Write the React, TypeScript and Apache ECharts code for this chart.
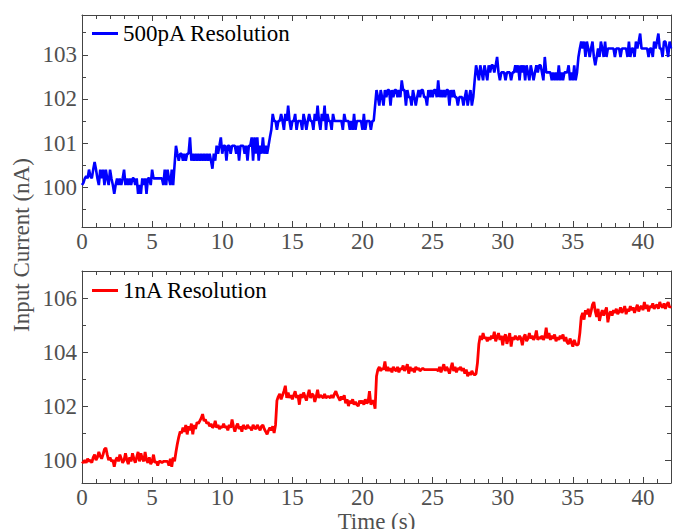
import React, { useEffect, useRef } from "react";
import * as echarts from "echarts";

const TIME_STEP = 0.1;
const X_MIN = 0;
const X_MAX = 42;
const TOP_Y_MIN = 99.1;
const TOP_Y_MAX = 103.9;
const BOT_Y_MIN = 99.15;
const BOT_Y_MAX = 107;

const xMajorTicks = [0, 5, 10, 15, 20, 25, 30, 35, 40];
const xMinorTicks = [1, 2, 3, 4, 6, 7, 8, 9, 11, 12, 13, 14, 16, 17, 18, 19, 21, 22, 23, 24, 26, 27, 28, 29, 31, 32, 33, 34, 36, 37, 38, 39, 41];
const topYMajorTicks = [100, 101, 102, 103];
const topYMinorTicks = [99.5, 100.5, 101.5, 102.5, 103.5];
const botYMajorTicks = [100, 102, 104, 106];
const botYMinorTicks = [101, 103, 105];

const blueName = "500pA Resolution";
const redName = "1nA Resolution";
const yTitle = "Input Current (nA)";
const xTitle = "Time (s)";

// 500pA resolution trace, one value every 0.1 s (rows = 1 s)
const blueCurrent = [
  100.05, 100.1, 100.2, 100.25, 100.2, 100.4, 100.25, 100.2, 100.4, 100.57,
  100.4, 100.2, 100.05, 100.4, 100.2, 100.4, 100.05, 100.4, 100.2, 100.05,
  100.4, 100.2, 100.05, 99.85, 100.05, 100.2, 100.05, 100.2, 100.05, 100.2,
  100.4, 100.05, 100.2, 100.05, 100.2, 100.05, 100.2, 100.2, 100.05, 100.2,
  99.85, 100.05, 99.85, 100.2, 100.05, 100.2, 99.85, 100.2, 100.2, 100.05,
  100.4, 100.2, 100.2, 100.2, 100.2, 100.2, 100.2, 100.2, 100.05, 100.4,
  100.05, 100.4, 100.2, 100.05, 100.4, 100.05, 100.5, 100.94, 100.76, 100.6,
  100.76, 100.76, 100.6, 100.76, 100.6, 100.76, 100.76, 101.13, 100.6, 100.76,
  100.6, 100.76, 100.6, 100.76, 100.6, 100.76, 100.6, 100.76, 100.6, 100.76,
  100.6, 100.76, 100.6, 100.42, 100.76, 100.6, 100.94, 100.76, 100.94, 101.13,
  100.76, 100.94, 100.94, 100.6, 100.94, 100.94, 100.76, 100.94, 100.94, 100.94,
  100.76, 100.94, 100.6, 100.94, 100.94, 100.94, 100.76, 100.94, 100.6, 100.94,
  100.94, 101.13, 100.6, 101.13, 100.76, 101.13, 100.6, 100.94, 100.76, 101.13,
  100.76, 100.94, 100.76, 100.94, 101.13, 101.3, 101.66, 101.5, 101.5, 101.3,
  101.5, 101.5, 101.66, 101.5, 101.3, 101.66, 101.5, 101.85, 101.5, 101.3,
  101.5, 101.5, 101.66, 101.3, 101.5, 101.5, 101.5, 101.3, 101.66, 101.5,
  101.3, 101.5, 101.66, 101.5, 101.5, 101.3, 101.66, 101.5, 101.85, 101.5,
  101.3, 101.66, 101.5, 101.85, 101.3, 101.66, 101.5, 101.5, 101.3, 101.66,
  101.5, 101.5, 101.5, 101.5, 101.5, 101.5, 101.3, 101.66, 101.5, 101.5,
  101.5, 101.3, 101.5, 101.3, 101.66, 101.3, 101.5, 101.5, 101.5, 101.5,
  101.3, 101.66, 101.3, 101.5, 101.5, 101.5, 101.3, 101.5, 101.5, 101.85,
  102.2, 102.04, 101.85, 102.2, 102.04, 101.85, 102.2, 102.04, 102.2, 102.2,
  101.85, 102.2, 102.04, 102.2, 102.2, 102.04, 102.2, 102.04, 102.42, 102.2,
  102.2, 101.85, 102.2, 102.04, 102.04, 101.85, 102.2, 102.04, 101.85, 102.04,
  102.2, 102.04, 102.2, 102.2, 102.04, 102.04, 101.85, 102.2, 102.04, 102.2,
  102.04, 102.2, 102.2, 102.04, 102.42, 102.04, 102.2, 102.04, 102.2, 102.04,
  102.2, 102.2, 101.85, 102.2, 102.04, 102.2, 102.04, 102.04, 101.85, 102.04,
  102.04, 102.04, 101.85, 102.04, 102.2, 101.85, 102.04, 102.2, 101.85, 102.04,
  102.42, 102.76, 102.6, 102.42, 102.76, 102.6, 102.42, 102.76, 102.6, 102.42,
  102.76, 102.6, 102.76, 102.76, 102.6, 102.76, 102.95, 102.6, 102.42, 102.6,
  102.6, 102.6, 102.42, 102.6, 102.6, 102.6, 102.42, 102.6, 102.6, 102.76,
  102.6, 102.76, 102.42, 102.76, 102.6, 102.76, 102.42, 102.76, 102.6, 102.42,
  102.76, 102.6, 102.42, 102.6, 102.76, 102.6, 102.76, 102.76, 102.6, 102.42,
  102.95, 102.6, 102.6, 102.6, 102.6, 102.42, 102.6, 102.42, 102.6, 102.42,
  102.76, 102.42, 102.6, 102.42, 102.6, 102.6, 102.6, 102.76, 102.42, 102.6,
  102.42, 102.76, 102.42, 102.6, 102.95, 103.14, 103.3, 103.14, 103.3, 102.95,
  103.3, 103.14, 102.95, 103.14, 103.3, 102.95, 102.76, 102.95, 103.14, 102.95,
  103.3, 103.14, 102.95, 103.3, 102.95, 103.14, 103.14, 103.14, 103.14, 103.14,
  102.95, 103.14, 103.14, 103.14, 102.95, 103.14, 103.14, 103.14, 103.14, 102.95,
  103.3, 102.95, 103.14, 103.14, 102.95, 103.3, 103.14, 103.3, 103.48, 103.14,
  103.14, 103.14, 103.14, 103.14, 102.95, 103.14, 103.14, 102.95, 103.3, 103.14,
  103.3, 103.48, 103.14, 103.14, 102.95, 103.3, 103.3, 103.14, 102.95, 103.3,
  103.14,
];

// 1nA resolution trace, one value every 0.1 s (rows = 1 s)
const redCurrent = [
  99.95, 99.9, 100.0, 99.9, 100.05, 99.95, 100.0, 99.9, 100.1, 100.2,
  100.0, 100.1, 100.3, 100.15, 100.05, 100.2, 100.4, 100.45, 100.2, 100.0,
  100.1, 99.95, 100.0, 99.75, 100.0, 100.1, 99.95, 100.2, 100.05, 99.9,
  100.0, 100.25, 100.0, 99.85, 100.1, 99.95, 100.25, 100.05, 99.9, 100.1,
  100.3, 99.95, 100.25, 100.05, 99.95, 100.3, 100.0, 99.9, 100.1, 99.85,
  99.95, 100.2, 99.9, 99.95, 99.8, 99.95, 99.95, 99.9, 99.95, 99.95,
  99.95, 99.95, 99.8, 100.05, 99.75, 100.1, 99.95, 100.3, 100.6, 100.85,
  101.05, 101.0, 101.2, 101.05, 101.3, 100.95, 101.25, 101.1, 101.35, 100.95,
  101.3, 101.15, 101.4, 101.35, 101.45, 101.55, 101.7, 101.45, 101.5, 101.35,
  101.4, 101.25, 101.35, 101.2, 101.25, 101.45, 101.2, 101.3, 101.15, 101.25,
  101.2, 101.35, 101.2, 101.25, 101.1, 101.3, 101.2, 101.5, 101.25, 101.05,
  101.25, 101.35, 101.15, 101.25, 101.05, 101.3, 101.2, 101.15, 101.3, 101.2,
  101.2, 101.1, 101.3, 101.2, 101.15, 101.3, 101.2, 101.1, 101.25, 101.3,
  101.15, 101.05, 100.95, 101.1, 101.2, 101.1, 101.25, 101.0, 101.3, 102.2,
  102.35, 102.45, 102.25, 102.4, 102.55, 102.75, 102.3, 102.5, 102.3, 102.4,
  102.25, 102.4, 102.55, 102.3, 102.4, 102.05, 102.45, 102.3, 102.5, 102.35,
  102.2, 102.4, 102.6, 102.3, 102.45, 102.4, 102.15, 102.35, 102.6, 102.3,
  102.4, 102.35, 102.3, 102.45, 102.3, 102.35, 102.35, 102.3, 102.4, 102.3,
  102.45, 102.55, 102.4, 102.3, 102.2, 102.35, 102.25, 102.4, 102.1, 102.25,
  102.0, 102.2, 102.1, 102.25, 102.05, 102.15, 102.05, 102.0, 102.2, 102.1,
  102.2, 102.05, 102.25, 102.1, 102.15, 102.55, 102.05, 102.2, 102.15, 101.9,
  103.1, 103.35, 103.45, 103.3, 103.4, 103.35, 103.65, 103.3, 103.45, 103.3,
  103.4, 103.25, 103.45, 103.35, 103.3, 103.45, 103.25, 103.4, 103.35, 103.5,
  103.3, 103.4, 103.55, 103.2, 103.45, 103.3, 103.4, 103.25, 103.45, 103.35,
  103.4, 103.3, 103.35, 103.4, 103.35, 103.35, 103.35, 103.35, 103.35, 103.35,
  103.35, 103.35, 103.35, 103.35, 103.3, 103.45, 103.25, 103.4, 103.55, 103.3,
  103.45, 103.35, 103.2, 103.4, 103.6, 103.3, 103.45, 103.25, 103.4, 103.35,
  103.45, 103.3, 103.4, 103.2, 103.35, 103.1, 103.25, 103.15, 103.3, 103.2,
  103.15, 103.2, 103.6, 104.3, 104.6, 104.45, 104.7, 104.5, 104.55, 104.4,
  104.55, 104.45, 104.6, 104.5, 104.75, 104.4, 104.55, 104.7, 104.45, 104.6,
  104.25, 104.55, 104.65, 104.3, 104.5, 104.7, 104.2, 104.55, 104.45, 104.6,
  104.5, 104.45, 104.6, 104.5, 104.25, 104.55, 104.65, 104.4, 104.5, 104.7,
  104.5, 104.6, 104.45, 104.55, 104.8, 104.45, 104.55, 104.5, 104.6, 104.45,
  104.55, 104.9, 104.5, 104.7, 104.45, 104.6, 104.5, 104.65, 104.4, 104.55,
  104.45, 104.6, 104.5, 104.65, 104.4, 104.55, 104.35, 104.3, 104.5, 104.35,
  104.2, 104.45, 104.3, 104.25, 104.3, 104.7, 105.3, 105.45, 105.2, 105.55,
  105.4, 105.6, 105.3, 105.5, 105.75, 105.85, 105.5, 105.3, 105.6, 105.15,
  105.4, 105.55, 105.35, 105.5, 105.65, 105.1, 105.4, 105.5, 105.35, 105.55,
  105.45, 105.6, 105.4, 105.5, 105.65, 105.45, 105.55, 105.7, 105.4, 105.6,
  105.5, 105.7, 105.55, 105.65, 105.45, 105.6, 105.75, 105.5, 105.65, 105.7,
  105.55, 105.85, 105.6, 105.75, 105.5, 105.7, 105.65, 105.8, 105.6, 105.7,
  105.75, 105.6, 105.85, 105.7, 105.65, 105.8, 105.6, 105.75, 105.85, 105.65,
  105.7,
];

const FONT = '"Liberation Serif", "Times New Roman", serif';
const AXIS_COLOR = "#444";
const LABEL_COLOR = "#505050";
const FONT_SIZE = 23;

const GRID_LEFT = 82;
const GRID_WIDTH = 589;
const GRID_HEIGHT = 212;
const GRID_TOPS = [15, 271];

function toPoints(values: number[]) {
  return values.map((v, i) => [Number((i * TIME_STEP).toFixed(1)), v]);
}

function xAxisSet(gridIndex: number, withName: boolean) {
  const base = {
    type: "value",
    gridIndex,
    min: X_MIN,
    max: X_MAX,
    splitLine: { show: false },
    axisPointer: { show: false },
  };
  return [
    {
      ...base,
      position: "bottom",
      axisLine: { show: true, onZero: false, lineStyle: { color: AXIS_COLOR, width: 1 } },
      axisTick: { show: true, inside: true, length: 6, customValues: xMajorTicks, lineStyle: { color: AXIS_COLOR } },
      axisLabel: {
        show: true,
        customValues: xMajorTicks,
        margin: 3,
        fontFamily: FONT,
        fontSize: FONT_SIZE,
        color: LABEL_COLOR,
      },
      name: withName ? xTitle : "",
      nameLocation: "middle",
      nameGap: 19,
      nameTextStyle: { fontFamily: FONT, fontSize: FONT_SIZE, color: LABEL_COLOR },
    },
    {
      ...base,
      position: "bottom",
      axisLine: { show: false, onZero: false },
      axisTick: { show: true, inside: true, length: 4, customValues: xMinorTicks, lineStyle: { color: AXIS_COLOR } },
      axisLabel: { show: false },
    },
    {
      ...base,
      position: "top",
      axisLine: { show: true, onZero: false, lineStyle: { color: AXIS_COLOR, width: 1 } },
      axisTick: { show: true, inside: true, length: 6, customValues: xMajorTicks, lineStyle: { color: AXIS_COLOR } },
      axisLabel: { show: false },
    },
    {
      ...base,
      position: "top",
      axisLine: { show: false, onZero: false },
      axisTick: { show: true, inside: true, length: 4, customValues: xMinorTicks, lineStyle: { color: AXIS_COLOR } },
      axisLabel: { show: false },
    },
  ];
}

function yAxisSet(gridIndex: number, min: number, max: number, major: number[], minor: number[]) {
  const base = {
    type: "value",
    gridIndex,
    min,
    max,
    splitLine: { show: false },
    axisPointer: { show: false },
  };
  return [
    {
      ...base,
      position: "left",
      axisLine: { show: true, onZero: false, lineStyle: { color: AXIS_COLOR, width: 1 } },
      axisTick: { show: true, inside: true, length: 6, customValues: major, lineStyle: { color: AXIS_COLOR } },
      axisLabel: {
        show: true,
        customValues: major,
        margin: 5,
        fontFamily: FONT,
        fontSize: FONT_SIZE,
        color: LABEL_COLOR,
      },
    },
    {
      ...base,
      position: "left",
      axisLine: { show: false, onZero: false },
      axisTick: { show: true, inside: true, length: 4, customValues: minor, lineStyle: { color: AXIS_COLOR } },
      axisLabel: { show: false },
    },
    {
      ...base,
      position: "right",
      axisLine: { show: true, onZero: false, lineStyle: { color: AXIS_COLOR, width: 1 } },
      axisTick: { show: true, inside: true, length: 6, customValues: major, lineStyle: { color: AXIS_COLOR } },
      axisLabel: { show: false },
    },
    {
      ...base,
      position: "right",
      axisLine: { show: false, onZero: false },
      axisTick: { show: true, inside: true, length: 4, customValues: minor, lineStyle: { color: AXIS_COLOR } },
      axisLabel: { show: false },
    },
  ];
}

export default function App() {
  const ref = useRef<HTMLDivElement>(null);

  useEffect(() => {
    if (!ref.current) return;
    const chart = echarts.init(ref.current, undefined, { renderer: "svg" });
    const option: any = {
      animation: false,
      backgroundColor: "#ffffff",
      grid: GRID_TOPS.map((top) => ({
        left: GRID_LEFT,
        top,
        width: GRID_WIDTH,
        height: GRID_HEIGHT,
        containLabel: false,
        outerBoundsMode: "none",
      })),
      xAxis: [...xAxisSet(0, false), ...xAxisSet(1, true)],
      yAxis: [
        ...yAxisSet(0, TOP_Y_MIN, TOP_Y_MAX, topYMajorTicks, topYMinorTicks),
        ...yAxisSet(1, BOT_Y_MIN, BOT_Y_MAX, botYMajorTicks, botYMinorTicks),
      ],
      legend: [
        {
          data: [blueName],
          left: 92,
          top: 22,
          padding: 0,
          icon: "rect",
          itemWidth: 26,
          itemHeight: 3,
          textStyle: { fontFamily: FONT, fontSize: FONT_SIZE, color: "#000" },
          selectedMode: false,
        },
        {
          data: [redName],
          left: 92,
          top: 279,
          padding: 0,
          icon: "rect",
          itemWidth: 26,
          itemHeight: 3,
          textStyle: { fontFamily: FONT, fontSize: FONT_SIZE, color: "#000" },
          selectedMode: false,
        },
      ],
      graphic: [
        {
          type: "text",
          x: 21,
          y: 245,
          rotation: Math.PI / 2,
          style: {
            text: yTitle,
            font: `${FONT_SIZE}px "Liberation Serif", "Times New Roman", serif`,
            fill: LABEL_COLOR,
            align: "center",
            verticalAlign: "middle",
          },
        },
      ],
      series: [
        {
          name: blueName,
          type: "line",
          xAxisIndex: 0,
          yAxisIndex: 0,
          data: toPoints(blueCurrent),
          showSymbol: false,
          symbol: "none",
          lineStyle: { color: "#0000ff", width: 2.6 },
          itemStyle: { color: "#0000ff" },
          clip: true,
        },
        {
          name: redName,
          type: "line",
          xAxisIndex: 4,
          yAxisIndex: 4,
          data: toPoints(redCurrent),
          showSymbol: false,
          symbol: "none",
          lineStyle: { color: "#ff0000", width: 2.8 },
          itemStyle: { color: "#ff0000" },
          clip: true,
        },
      ],
    };
    chart.setOption(option);
    return () => chart.dispose();
  }, []);

  return (
    <div
      ref={ref}
      style={{ position: "fixed", left: 0, top: 0, width: 673, height: 529, background: "#fff" }}
    />
  );
}
